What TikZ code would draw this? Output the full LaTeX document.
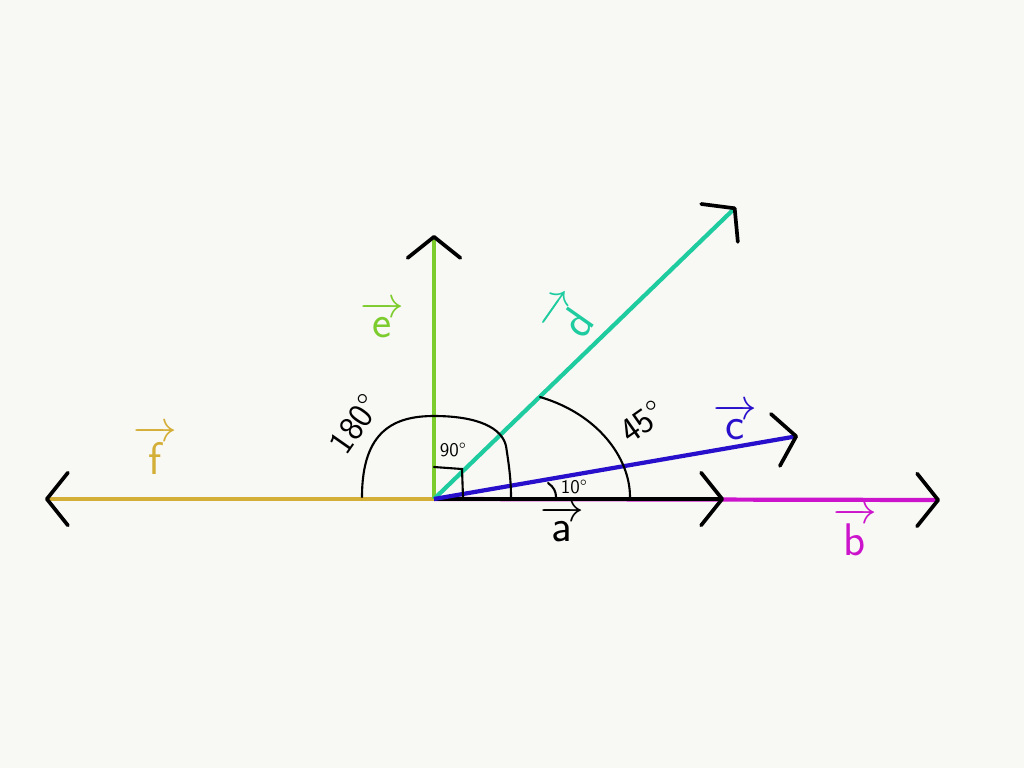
\documentclass[tikz,border=0pt]{standalone}
\usepackage{xcolor}
\usepackage{tikz}
\usepackage{amsmath}
\usetikzlibrary{arrows.meta,positioning}
\definecolor{paper}{RGB}{248,248,244}
\definecolor{colF}{RGB}{212,175,55}
\definecolor{colE}{RGB}{125,204,45}
\definecolor{colD}{RGB}{30,204,160}
\definecolor{colC}{RGB}{40,15,204}
\definecolor{colB}{RGB}{204,20,204}
\tikzset{
  vec/.style={line width=2.4pt, -{Straight Barb[black, length=12pt, width=30pt, line width=2.1pt, round]}},
  anglearc/.style={black, line width=1.2pt, line cap=round},
  veclabel/.style={font=\sffamily\fontsize{26}{26}\selectfont, inner sep=0pt},
  deglabel/.style={font=\sffamily\fontsize{20}{20}\selectfont, inner sep=0pt},
  smalldeg/.style={font=\sffamily\fontsize{11}{11}\selectfont, inner sep=0pt}
}
\begin{document}
\begin{tikzpicture}[x=0.02cm, y=-0.02cm]
            \fill[paper] (0,0) rectangle (1024,768);
            \useasboundingbox (0,0) rectangle (1024,768);
            \coordinate (O) at (434,499);
            \coordinate (tipF) at (45,499);
            \coordinate (tipE) at (434,235);
            \coordinate (tipD) at (736,207);
            \coordinate (tipC) at (798,436);
            \coordinate (tipA) at (724,499);
            \coordinate (tipB) at (940,500);
            \draw[vec, colB] (O) -- (tipB);
            \draw[vec, black] (O) -- (tipA);
            \draw[vec, colF] (O) -- (tipF);
            \draw[vec, colE] (O) -- (tipE);
            \draw[vec, colD] (O) -- (tipD);
            \draw[vec, colC] (O) -- (tipC);
            \draw[anglearc] (362,497) .. controls (362,430) and (395,416) .. (434,416) .. controls (478,416) and (502,428) .. (506,446) .. controls (509,465) and (511,480) .. (511,497);
            \draw[anglearc] (434,467) -- (462,469) -- (463,497);
            \draw[anglearc] (540,397) .. controls (598,414) and (630,458) .. (630,497);
            \draw[anglearc] (548,483) .. controls (554,487) and (556,492) .. (556,497);
            \node[veclabel, colF] at (155,450) (lblF) {$\overrightarrow{\text{f}}$};
            \node[veclabel, colE] at (382,320) (lblE) {$\overrightarrow{\text{e}}$};
            \node[veclabel, colD, rotate=55] at (570,318) (lblD) {$\overrightarrow{\text{d}}$};
            \node[veclabel, colC] at (735,422) (lblC) {$\overrightarrow{\text{c}}$};
            \node[veclabel, black] at (562,524) (lblA) {$\overrightarrow{\text{a}}$};
            \node[veclabel, colB] at (855,532) (lblB) {$\overrightarrow{\text{b}}$};
            \node[deglabel, rotate=55] at (355,424) (deg180) {180°};
            \node[deglabel, rotate=35] at (642,422) (deg45) {45°};
            \node[smalldeg] at (453,450) (deg90) {90°};
            \node[smalldeg] at (574,487) (deg10) {10°};
        \end{tikzpicture}
\end{document}
